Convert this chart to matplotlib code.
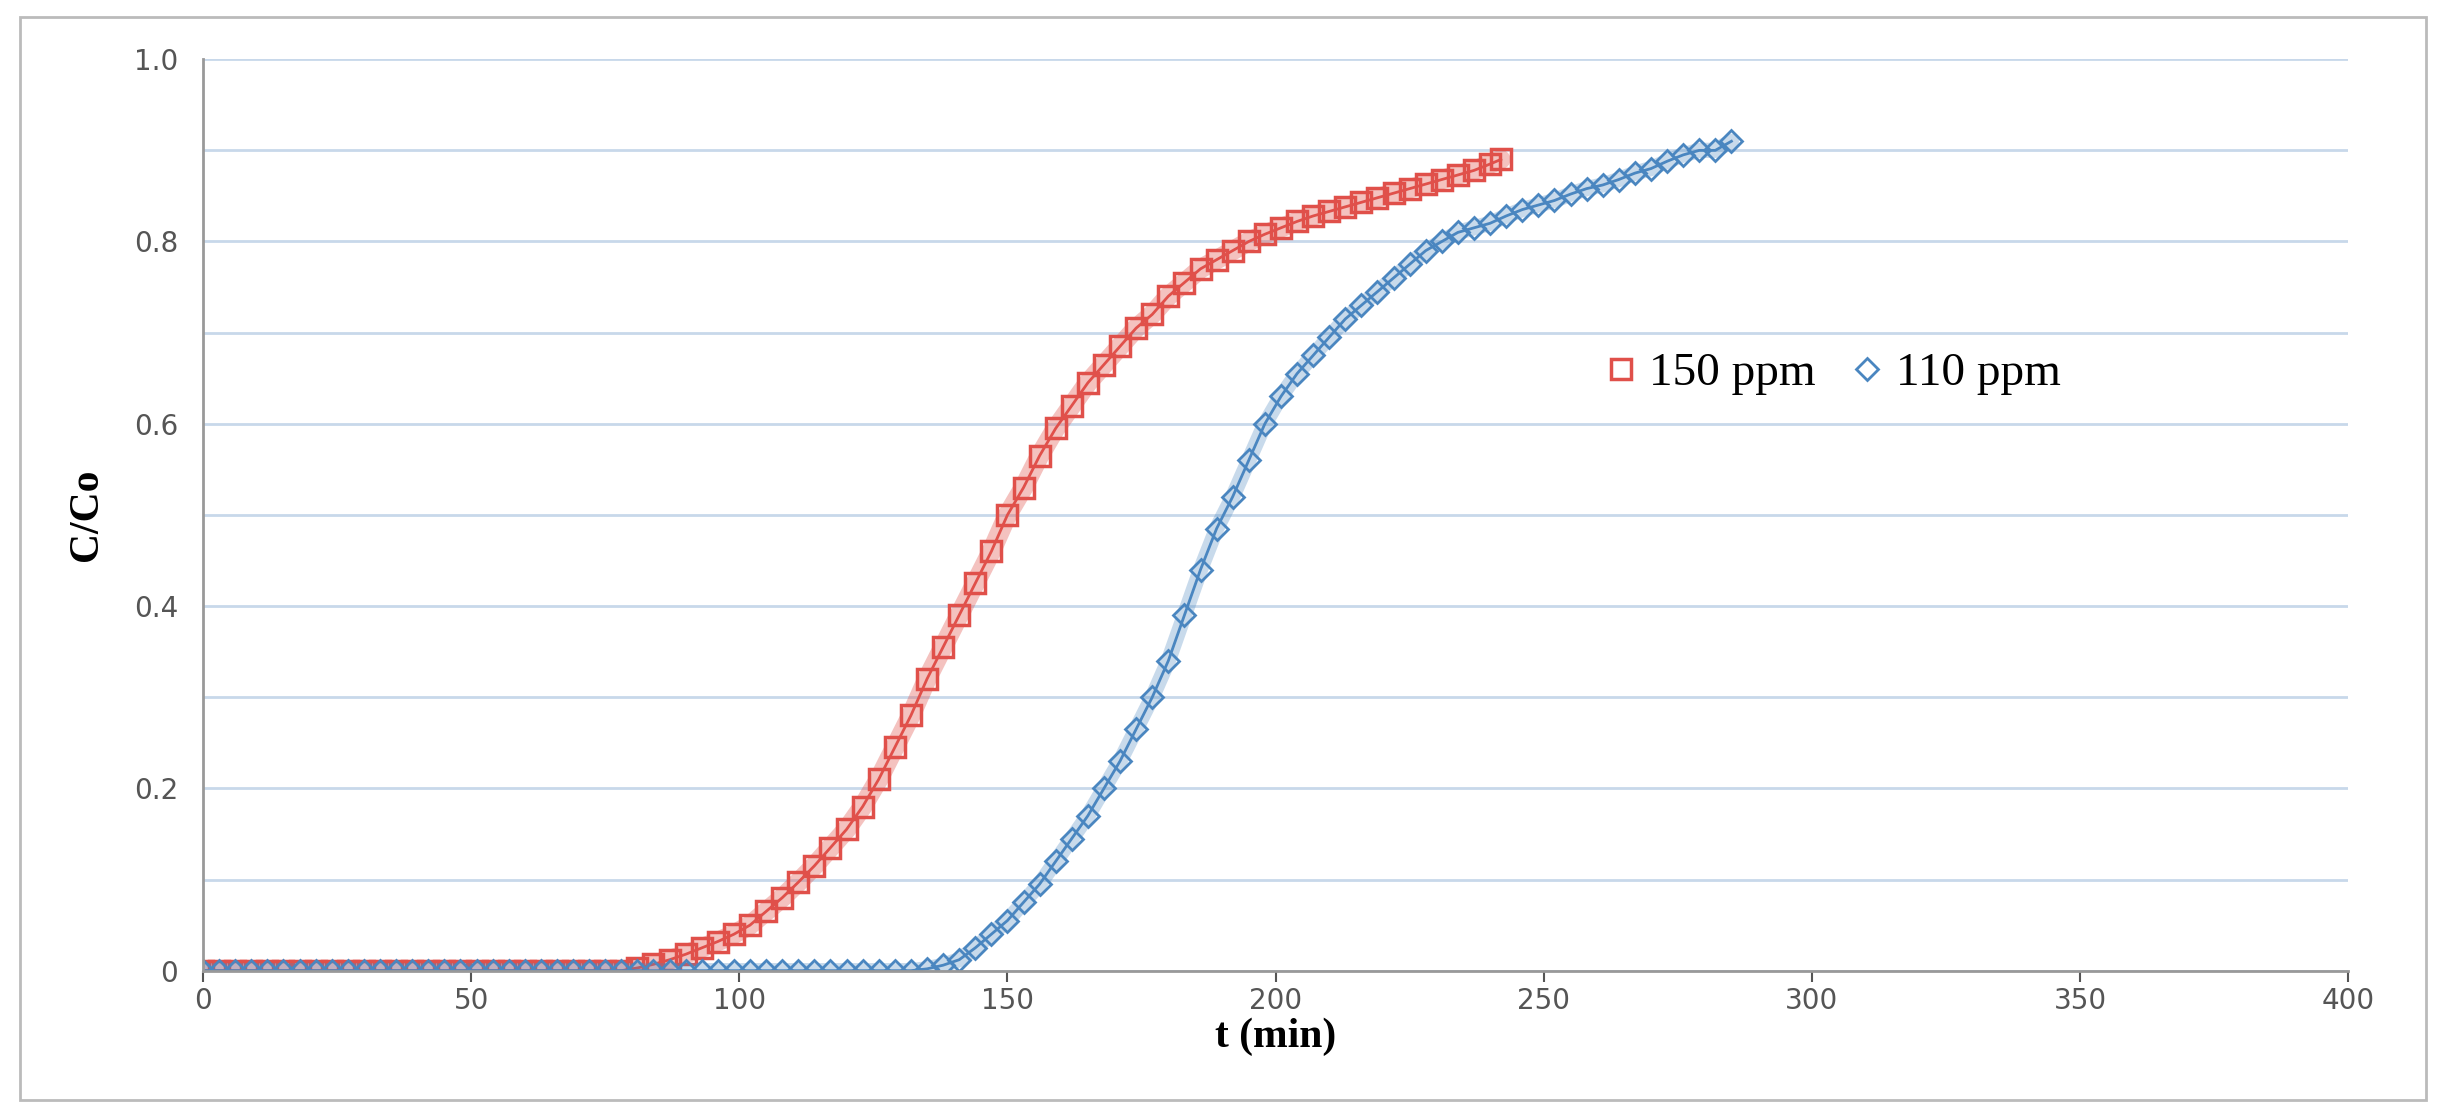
import numpy as np
import matplotlib.pyplot as plt
from matplotlib.patches import Rectangle

# 150 ppm, sampled every 3 min
t_150 = list(range(0, 241, 3)) + [242]
c_150 = [0.0] * 27 + [
    0.003, 0.007, 0.012, 0.018, 0.025, 0.032, 0.04, 0.05, 0.065, 0.08,
    0.097, 0.115, 0.135, 0.155, 0.18, 0.21, 0.245, 0.28, 0.32, 0.355,
    0.39, 0.425, 0.46, 0.5, 0.53, 0.565, 0.595, 0.62, 0.645, 0.665,
    0.685, 0.705, 0.72, 0.74, 0.755, 0.77, 0.78, 0.79, 0.8, 0.808,
    0.815, 0.822, 0.828, 0.833, 0.838, 0.843, 0.848, 0.853, 0.858, 0.863,
    0.868, 0.873, 0.878, 0.885, 0.89]

# 110 ppm, sampled every 3 min
t_110 = list(range(0, 286, 3))
c_110 = [0.0] * 45 + [
    0.002, 0.006, 0.012, 0.025, 0.04, 0.055, 0.075, 0.095, 0.12, 0.145,
    0.17, 0.2, 0.23, 0.265, 0.3, 0.34, 0.39, 0.44, 0.485, 0.52,
    0.56, 0.6, 0.63, 0.655, 0.675, 0.695, 0.715, 0.73, 0.745, 0.76,
    0.775, 0.79, 0.8, 0.81, 0.815, 0.82, 0.828, 0.835, 0.84, 0.845,
    0.852, 0.858, 0.862, 0.868, 0.875, 0.88, 0.888, 0.895, 0.9, 0.9,
    0.91]

x_ticks = [0, 50, 100, 150, 200, 250, 300, 350, 400]
y_ticks = [0, 0.2, 0.4, 0.6, 0.8, 1.0]
y_labels = ['0', '0.2', '0.4', '0.6', '0.8', '1.0']

red = '#e0504a'
blue = '#4a86c0'

fig = plt.figure(figsize=(24.46, 11.17), dpi=100)
fig.patches.append(Rectangle((0.008, 0.015), 0.984, 0.97, transform=fig.transFigure,
                             fill=False, edgecolor='#bbbbbb', linewidth=2))
ax = fig.add_axes([0.083, 0.131, 0.877, 0.816])

# dense sampling in the original makes the markers merge into a band
ax.plot(t_150, c_150, color=red, lw=14, alpha=0.35, solid_capstyle='round')
ax.plot(t_150, c_150, ls='-', lw=2, color=red, marker='s', ms=15, mfc='none', mec=red, mew=2.5,
        label='150 ppm')
ax.plot(t_110, c_110, color=blue, lw=11, alpha=0.3, solid_capstyle='round')
ax.plot(t_110, c_110, ls='-', lw=2, color=blue, marker='D', ms=11, mfc='none', mec=blue, mew=2,
        label='110 ppm')

ax.set_xlim(0, 400)
ax.set_ylim(0, 1.0)
ax.set_xticks(x_ticks)
ax.set_yticks(y_ticks)
ax.set_yticklabels(y_labels)
ax.set_yticks(np.arange(0.1, 1.01, 0.1), minor=True)
ax.grid(True, which='both', axis='y', color='#c8d8ea', linewidth=2)
ax.tick_params(axis='y', which='both', length=0, pad=18)
ax.tick_params(labelsize=20, colors='#555555')
ax.tick_params(axis='x', length=8, width=1.5)
for s in ['top', 'right']:
    ax.spines[s].set_visible(False)
for s in ['left', 'bottom']:
    ax.spines[s].set_color('#999999')
    ax.spines[s].set_linewidth(2)

ax.set_xlabel('t (min)', fontsize=30, fontweight='bold', family='Liberation Serif', labelpad=2)
ax.set_ylabel('C/Co', fontsize=30, fontweight='bold', family='Liberation Serif', labelpad=20)

leg = ax.legend(loc='center left', bbox_to_anchor=(0.63, 0.655), ncol=2, frameon=False,
                prop={'family': 'Liberation Serif', 'size': 34}, handletextpad=0.1,
                columnspacing=0.6, handlelength=1.0)
for h in leg.legend_handles:
    h.set_linestyle('none')

fig.savefig('out.png', dpi=100)
